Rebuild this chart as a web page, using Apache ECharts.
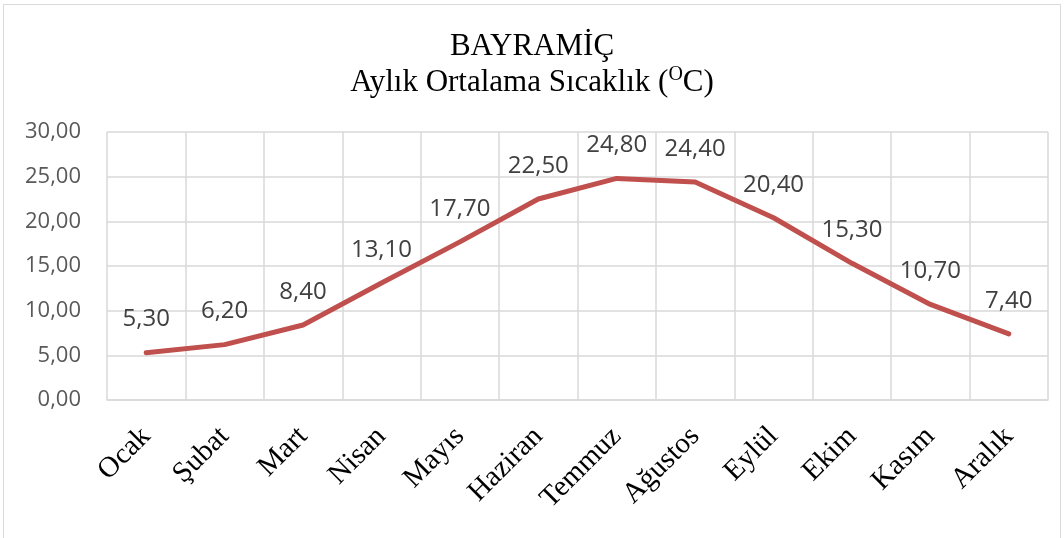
<!DOCTYPE html>
<html>
<head>
<meta charset="utf-8">
<script src="https://cdn.jsdelivr.net/npm/echarts@6/dist/echarts.min.js"></script>
<style>
html,body{margin:0;padding:0;background:#fff;}
#box{position:absolute;left:3px;top:4px;width:1058px;height:540px;border:1px solid #d9d9d9;box-sizing:border-box;}
#chart{width:1064px;height:538px;}
</style>
</head>
<body>
<div id="box"></div>
<div id="chart"></div>
<script>
var months = ['Ocak','Şubat','Mart','Nisan','Mayıs','Haziran','Temmuz','Ağustos','Eylül','Ekim','Kasım','Aralık'];
var temps = [5.3, 6.2, 8.4, 13.1, 17.7, 22.5, 24.8, 24.4, 20.4, 15.3, 10.7, 7.4];
var yTicks = [0, 5, 10, 15, 20, 25, 30];

function fmt(v){ return v.toFixed(2).replace('.', ','); }

var myChart = echarts.init(document.getElementById('chart'));
myChart.setOption({
	animation:false,
	title:{
		left:'center',
		top:24,
		text:'BAYRAMİÇ\nAylık Ortalama Sıcaklık ({sup|O}C)',
		textStyle:{
			fontFamily:'Liberation Serif',
			fontSize:31,
			fontWeight:'normal',
			color:'#000',
			lineHeight:36,
			rich:{
				sup:{fontFamily:'Liberation Serif',fontSize:20,verticalAlign:'top',padding:[0,0,12,0],color:'#000'}
			}
		}
	},
	grid:{left:107,right:16,top:132,bottom:138},
	xAxis:{
		type:'category',
		data:months,
		boundaryGap:true,
		axisLine:{lineStyle:{color:'#d9d9d9',width:1.5}},
		axisTick:{show:false},
		splitLine:{show:true,lineStyle:{color:'#d9d9d9',width:1.5}},
		axisLabel:{
			interval:0,
			rotate:45,
			margin:32,
			fontFamily:'Liberation Serif',
			fontSize:29,
			color:'#000'
		}
	},
	yAxis:{
		type:'value',
		min:yTicks[0],
		max:yTicks[yTicks.length-1],
		interval:5,
		axisLine:{show:false},
		axisTick:{show:false},
		splitLine:{lineStyle:{color:'#d9d9d9',width:1.5}},
		axisLabel:{
			margin:26,
			fontFamily:'Open Sans',
			fontSize:22,
			color:'#595959',
			formatter:function(v){ return fmt(v); }
		}
	},
	series:[{
		type:'line',
		data:temps,
		symbol:'circle',
		symbolSize:2,
		showSymbol:true,
		lineStyle:{color:'#c0504d',width:5,cap:'round'},
		itemStyle:{color:'#c0504d'},
		label:{
			show:true,
			position:'top',
			distance:20,
			fontFamily:'Open Sans',
			fontSize:24,
			color:'#404040',
			formatter:function(p){ return fmt(p.value); }
		}
	}]
});
</script>
</body>
</html>
